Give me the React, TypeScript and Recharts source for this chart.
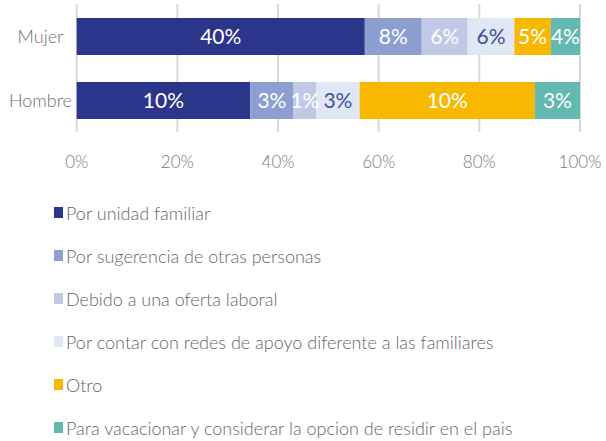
import { BarChart, Bar, XAxis, YAxis, CartesianGrid, Legend, LabelList } from 'recharts';

const categories = ['Mujer', 'Hombre'];
const seriesNames = [
  'Por unidad familiar',
  'Por sugerencia de otras personas',
  'Debido a una oferta laboral',
  'Por contar con redes de apoyo diferente a las familiares',
  'Otro',
  'Para vacacionar y considerar la opcion de residir en el pais',
];
const mujerValues = [39.5, 7.8, 6.3, 6.4, 5.0, 4.0];
const hombreValues = [10.0, 2.5, 1.3, 2.5, 10.1, 2.6];
const xTicks = [0, 0.2, 0.4, 0.6, 0.8, 1];

const colors = ['#2B3589', '#8C9FD0', '#C0CAE6', '#E1E7F5', '#F9B800', '#63B8B0'];
const labelColors = ['#FFFFFF', '#FFFFFF', '#FFFFFF', '#3F51A3', '#FFFFFF', '#FFFFFF'];

const valuesByCategory = [mujerValues, hombreValues];
const data = categories.map((name, i) => {
  const row: Record<string, string | number> = { name };
  seriesNames.forEach((_, j) => {
    row['s' + j] = valuesByCategory[i][j];
  });
  return row;
});

const FONT = 'Lato, "Open Sans", sans-serif';

function CategoryTick({ y, payload }: any) {
  return (
    <text x={40.5} y={y} textAnchor="middle" dominantBaseline="central" fill="#707070" fontSize={18} fontWeight={300} fontFamily={FONT}>
      {payload.value}
    </text>
  );
}

// legend keeps the series order instead of recharts' default sorting
function LegendList() {
  return (
    <div style={{ paddingTop: 19, paddingLeft: 54, fontFamily: FONT, fontSize: 18, fontWeight: 300, color: '#666666', height: 250, textAlign: 'left' }}>
      {seriesNames.map((s, j) => (
        <div key={s} style={{ height: 43, display: 'flex', alignItems: 'center' }}>
          <span style={{ width: 9, height: 11, background: colors[j], display: 'inline-block', marginRight: 3 }} />
          <span>{s}</span>
        </div>
      ))}
    </div>
  );
}

export default function App() {
  return (
    <div>
      <style>{'body{margin:0;background:#fff}'}</style>
      <BarChart
        width={606}
        height={441}
        data={data}
        layout="vertical"
        stackOffset="expand"
        barSize={37}
        margin={{ top: 4, right: 26, left: 0, bottom: 0 }}
      >
        <CartesianGrid horizontal={false} stroke="#D9D9D9" strokeWidth={2} />
        <XAxis
          type="number"
          domain={[0, 1]}
          ticks={xTicks}
          tickFormatter={(v: number) => Math.round(v * 100) + '%'}
          axisLine={false}
          tickLine={false}
          tickSize={0}
          tickMargin={24}
          height={40}
          tick={{ fill: '#7A7A7A', fontSize: 17, fontWeight: 300, fontFamily: FONT }}
        />
        <YAxis
          type="category"
          dataKey="name"
          width={76.7}
          axisLine={false}
          tickLine={false}
          tick={<CategoryTick />}
        />
        <Legend
          layout="horizontal"
          verticalAlign="bottom"
          align="left"
          content={<LegendList />}
          wrapperStyle={{ left: 0, bottom: 0, width: 606, height: 269 }}
        />
        {seriesNames.map((s, j) => (
          <Bar key={s} dataKey={'s' + j} name={s} stackId="a" fill={colors[j]} isAnimationActive={false}>
            <LabelList
              dataKey={'s' + j}
              position="center"
              formatter={(v: any) => Math.round(Number(v)) + '%'}
              fill={labelColors[j]}
              fontSize={21}
              fontFamily={FONT}
            />
          </Bar>
        ))}
      </BarChart>
    </div>
  );
}
